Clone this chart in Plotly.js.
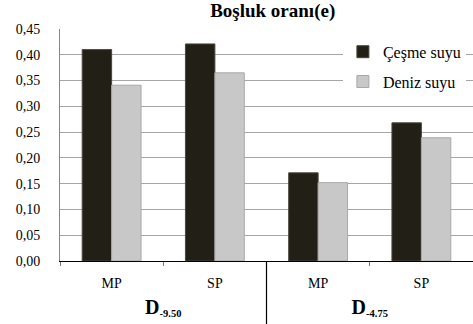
<!DOCTYPE html>
<html><head><meta charset="utf-8">
<script src="https://cdn.plot.ly/plotly-3.0.1.min.js"></script>
<style>html,body{margin:0;padding:0;background:#fff}#c{width:473px;height:324px}</style>
</head><body><div id="c"></div>
<script>
const groups = ["-9.50", "-9.50", "-4.75", "-4.75"];
const categories = ["MP", "SP", "MP", "SP"];
const cesme = [0.41, 0.421, 0.171, 0.268];
const deniz = [0.341, 0.365, 0.152, 0.239];
const seriesNames = ["Çeşme suyu", "Deniz suyu"];
const yTicks = [0, 0.05, 0.10, 0.15, 0.20, 0.25, 0.30, 0.35, 0.40, 0.45];

const keys = categories.map((c, i) => groups[i] + " " + c);
const groupNames = [...new Set(groups)];
const groupText = groupNames.map(g => '<span style="font-size:20px"><b>D</b></span><b><sub>' + g + '</sub></b>');

const font = "Liberation Serif";
const traces = [
  {type: "bar", name: seriesNames[0], legendgroup: "a", x: keys, y: cesme,
   marker: {color: "#221f16", line: {color: "#4a4638", width: 1}}},
  {type: "bar", name: seriesNames[1], legendgroup: "b", x: keys, y: deniz,
   marker: {color: "#c8c8c8", line: {color: "#a8a8a8", width: 1}}},
  {type: "scatter", mode: "none", x: groupNames, y: [null, null], xaxis: "x2", showlegend: false, hoverinfo: "skip"}
];
const layout = {
  width: 473, height: 324,
  margin: {l: 60, r: 0, t: 29, b: 63},
  paper_bgcolor: "#fff", plot_bgcolor: "#fff",
  separators: ", ",
  font: {family: font, size: 13, color: "#000"},
  title: {text: "<b>Boşluk oranı(e)</b>", x: 0.515, xref: "paper", xanchor: "center", y: 0.99, yanchor: "top",
          font: {family: font, size: 19, color: "#000"}},
  barmode: "group", bargap: 0.43, bargroupgap: 0,
  showlegend: true,
  legend: {x: 0.685, y: 0.975, xanchor: "left", yanchor: "top", bgcolor: "#fff",
           font: {family: font, size: 16, color: "#000"}, itemwidth: 30, tracegroupgap: 6,
           traceorder: "grouped"},
  xaxis: {type: "category", categoryarray: keys, tickvals: keys, ticktext: categories,
          showline: true, linecolor: "#000", linewidth: 1,
          ticks: "outside", tickson: "boundaries", ticklen: 4, tickcolor: "#777",
          ticklabelstandoff: 9,
          tickfont: {family: font, size: 14, color: "#000"}, showgrid: false},
  xaxis2: {type: "category", overlaying: "x", anchor: "y", side: "bottom",
           categoryarray: groupNames, range: [-0.5, 1.5], tickvals: groupNames, ticktext: groupText,
           showline: false, ticks: "", showgrid: false, ticklabelstandoff: 37,
           tickfont: {family: font, size: 15, color: "#000"}},
  yaxis: {range: [0, 0.45], tickvals: yTicks, tickformat: ".2f", showgrid: true,
          gridcolor: "#a6a6a6", gridwidth: 1, showline: true, linecolor: "#888",
          ticks: "", tickfont: {family: font, size: 14, color: "#000"}, zeroline: false,
          ticklabelstandoff: 16},
  shapes: [{type: "line", xref: "paper", yref: "paper", x0: 0.5, x1: 0.5, y0: 0, y1: -0.28,
            line: {color: "#000", width: 1.2}}]
};
Plotly.newPlot("c", traces, layout, {displayModeBar: false, staticPlot: true});
</script></body></html>
